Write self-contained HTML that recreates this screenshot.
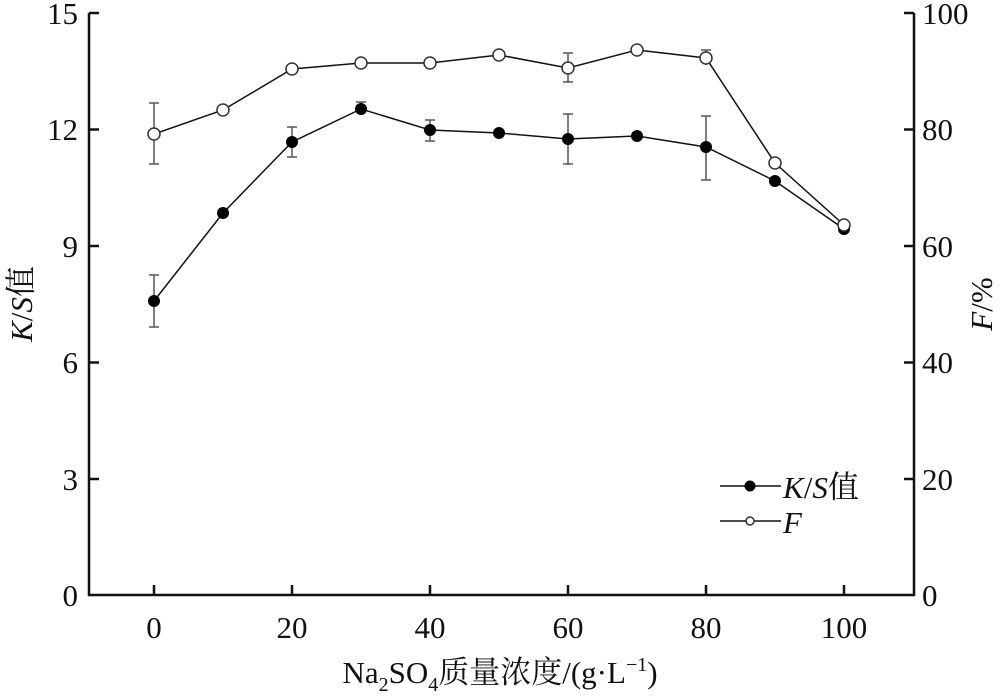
<!DOCTYPE html>
<html><head><meta charset="utf-8"><style>
html,body{margin:0;padding:0;background:#fff;}
text{font-family:"Liberation Serif","Noto Serif CJK SC",serif;fill:#111;}
</style></head><body>
<svg width="1000" height="695" viewBox="0 0 1000 695" xmlns="http://www.w3.org/2000/svg" font-family="Liberation Serif, Noto Serif CJK SC, serif">
<g stroke="#111" stroke-width="2.5" fill="none">
<polyline points="89,13 89,595 914,595 914,13"/>
<line x1="89" y1="13" x2="99" y2="13"/><line x1="89" y1="129.5" x2="99" y2="129.5"/><line x1="89" y1="246" x2="99" y2="246"/><line x1="89" y1="362.5" x2="99" y2="362.5"/><line x1="89" y1="479" x2="99" y2="479"/>
<line x1="914" y1="13" x2="904" y2="13"/><line x1="914" y1="129.5" x2="904" y2="129.5"/><line x1="914" y1="246" x2="904" y2="246"/><line x1="914" y1="362.5" x2="904" y2="362.5"/><line x1="914" y1="479" x2="904" y2="479"/>
<line x1="154" y1="595" x2="154" y2="585"/><line x1="292" y1="595" x2="292" y2="585"/><line x1="430" y1="595" x2="430" y2="585"/><line x1="568" y1="595" x2="568" y2="585"/><line x1="706" y1="595" x2="706" y2="585"/><line x1="844" y1="595" x2="844" y2="585"/>
</g>
<g font-size="31" text-anchor="end">
<text x="78" y="24">15</text><text x="78" y="140">12</text><text x="78" y="257">9</text><text x="78" y="373">6</text><text x="78" y="490">3</text><text x="78" y="606">0</text>
</g>
<g font-size="31" text-anchor="start">
<text x="922" y="24">100</text><text x="922" y="140">80</text><text x="922" y="257">60</text><text x="922" y="373">40</text><text x="922" y="490">20</text><text x="922" y="606">0</text>
</g>
<g font-size="31" text-anchor="middle">
<text x="154" y="638">0</text><text x="292" y="638">20</text><text x="430" y="638">40</text><text x="568" y="638">60</text><text x="706" y="638">80</text><text x="844" y="638">100</text>
</g>
<text x="500" y="683" font-size="31" text-anchor="middle">Na<tspan font-size="20" dy="8">2</tspan><tspan dy="-8">SO</tspan><tspan font-size="20" dy="8">4</tspan><tspan dy="-8">质量浓度/(g·L</tspan><tspan font-size="20" dy="-12">−1</tspan><tspan dy="12">)</tspan></text>
<text transform="translate(32,304) rotate(-90)" font-size="31" text-anchor="middle"><tspan font-style="italic">K</tspan>/<tspan font-style="italic">S</tspan>值</text>
<text transform="translate(992,304) rotate(-90)" font-size="31" text-anchor="middle"><tspan font-style="italic">F</tspan>/%</text>
<g stroke="#555" stroke-width="1.5">
<line x1="154" y1="275" x2="154" y2="327"/><line x1="149" y1="275" x2="159" y2="275"/><line x1="149" y1="327" x2="159" y2="327"/>
<line x1="292" y1="127" x2="292" y2="157"/><line x1="287" y1="127" x2="297" y2="127"/><line x1="287" y1="157" x2="297" y2="157"/>
<line x1="361" y1="102" x2="361" y2="114"/><line x1="356" y1="102" x2="366" y2="102"/>
<line x1="430" y1="120" x2="430" y2="141"/><line x1="425" y1="120" x2="435" y2="120"/><line x1="425" y1="141" x2="435" y2="141"/>
<line x1="568" y1="114" x2="568" y2="164"/><line x1="563" y1="114" x2="573" y2="114"/><line x1="563" y1="164" x2="573" y2="164"/>
<line x1="706" y1="116" x2="706" y2="180"/><line x1="701" y1="116" x2="711" y2="116"/><line x1="701" y1="180" x2="711" y2="180"/>
<line x1="154" y1="103" x2="154" y2="164"/><line x1="149" y1="103" x2="159" y2="103"/><line x1="149" y1="164" x2="159" y2="164"/>
<line x1="568" y1="53" x2="568" y2="82"/><line x1="563" y1="53" x2="573" y2="53"/><line x1="563" y1="82" x2="573" y2="82"/>
<line x1="706" y1="50" x2="706" y2="65"/><line x1="701" y1="50" x2="711" y2="50"/>
</g>
<polyline fill="none" stroke="#111" stroke-width="1.5" points="154,301 223,213 292,142 361,109 430,130 499,133 568,139 637,136 706,147 775,181 844,229"/>
<polyline fill="none" stroke="#111" stroke-width="1.5" points="154,134 223,110 292,69 361,63 430,63 499,55 568,68 637,50 706,58 775,163 844,225"/>
<g fill="#000">
<circle cx="154" cy="301" r="6"/><circle cx="223" cy="213" r="6"/><circle cx="292" cy="142" r="6"/><circle cx="361" cy="109" r="6"/><circle cx="430" cy="130" r="6"/><circle cx="499" cy="133" r="6"/><circle cx="568" cy="139" r="6"/><circle cx="637" cy="136" r="6"/><circle cx="706" cy="147" r="6"/><circle cx="775" cy="181" r="6"/><circle cx="844" cy="229" r="6"/>
</g>
<g fill="#fff" stroke="#333" stroke-width="1.5">
<circle cx="154" cy="134" r="6"/><circle cx="223" cy="110" r="6"/><circle cx="292" cy="69" r="6"/><circle cx="361" cy="63" r="6"/><circle cx="430" cy="63" r="6"/><circle cx="499" cy="55" r="6"/><circle cx="568" cy="68" r="6"/><circle cx="637" cy="50" r="6"/><circle cx="706" cy="58" r="6"/><circle cx="775" cy="163" r="6"/><circle cx="844" cy="225" r="6"/>
</g>
<line x1="720" y1="486" x2="781" y2="486" stroke="#111" stroke-width="1.5"/>
<circle cx="750" cy="486" r="5.5" fill="#000"/>
<line x1="720" y1="521" x2="781" y2="521" stroke="#111" stroke-width="1.5"/>
<circle cx="750" cy="521" r="4" fill="#fff" stroke="#333" stroke-width="1.5"/>
<text x="783" y="498" font-size="31"><tspan font-style="italic">K</tspan>/<tspan font-style="italic">S</tspan>值</text>
<text x="783" y="533" font-size="31" font-style="italic">F</text>
</svg>
</body></html>
